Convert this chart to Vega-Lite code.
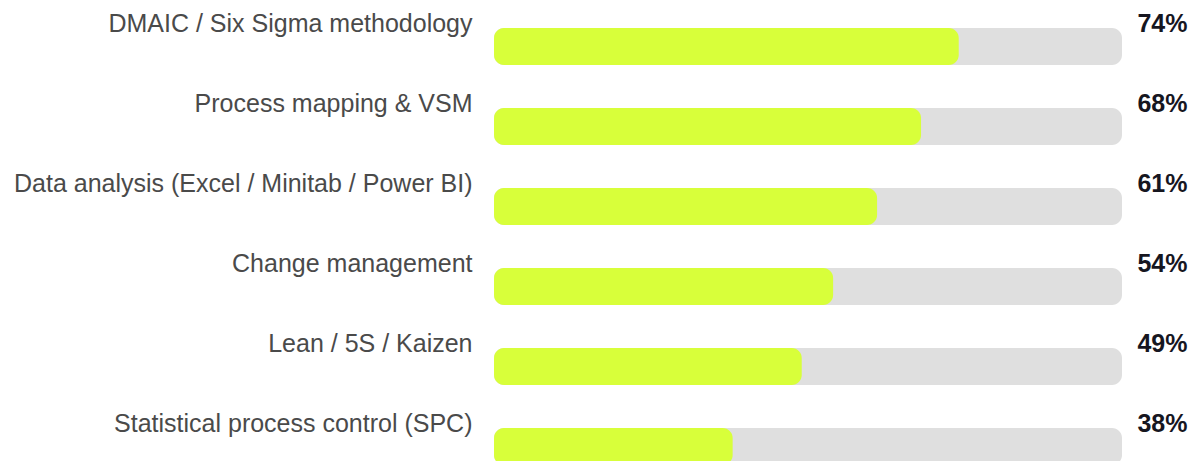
{
  "$schema": "https://vega.github.io/schema/vega-lite/v6.json",
  "autosize": {"type": "none"},
  "width": 628,
  "height": 454.5,
  "padding": {"left": 494, "right": 76, "top": 6.5, "bottom": 0},
  "background": "#ffffff",
  "config": {"view": {"stroke": null}, "font": "Liberation Sans"},
  "data": {"values": [
    {"skill": "DMAIC / Six Sigma methodology", "value": 74, "label": "74%"},
    {"skill": "Process mapping & VSM", "value": 68, "label": "68%"},
    {"skill": "Data analysis (Excel / Minitab / Power BI)", "value": 61, "label": "61%"},
    {"skill": "Change management", "value": 54, "label": "54%"},
    {"skill": "Lean / 5S / Kaizen", "value": 49, "label": "49%"},
    {"skill": "Statistical process control (SPC)", "value": 38, "label": "38%"}
  ]},
  "encoding": {
    "y": {
      "field": "skill", "type": "nominal", "sort": null,
      "scale": {"range": [0, 480], "paddingInner": 0, "paddingOuter": 0},
      "axis": {"title": null, "ticks": false, "domain": false, "grid": false,
        "labelPadding": 22, "labelOffset": -14.5, "labelBaseline": "alphabetic",
        "labelFont": "Liberation Sans", "labelFontSize": 25, "labelColor": "#4a4a4a", "labelLimit": 0}
    }
  },
  "layer": [
    {
      "mark": {"type": "bar", "height": 37, "cornerRadius": 10, "color": "#dfdfdf", "clip": true},
      "encoding": {
        "x": {"datum": 100, "type": "quantitative", "scale": {"domain": [0, 100]}, "axis": null},
        "x2": {"datum": 0}
      }
    },
    {
      "mark": {"type": "bar", "height": 37, "cornerRadius": 10, "color": "#d8ff3a", "clip": true},
      "encoding": {
        "x": {"field": "value", "type": "quantitative", "scale": {"domain": [0, 100]}, "axis": null},
        "x2": {"datum": 0}
      }
    },
    {
      "mark": {"type": "text", "align": "right", "baseline": "alphabetic", "dx": 65.5, "dy": -14.5,
        "font": "Liberation Sans", "fontSize": 25, "fontWeight": "bold", "color": "#16161f"},
      "encoding": {
        "x": {"datum": 100, "type": "quantitative"},
        "text": {"field": "label"}
      }
    }
  ]
}
